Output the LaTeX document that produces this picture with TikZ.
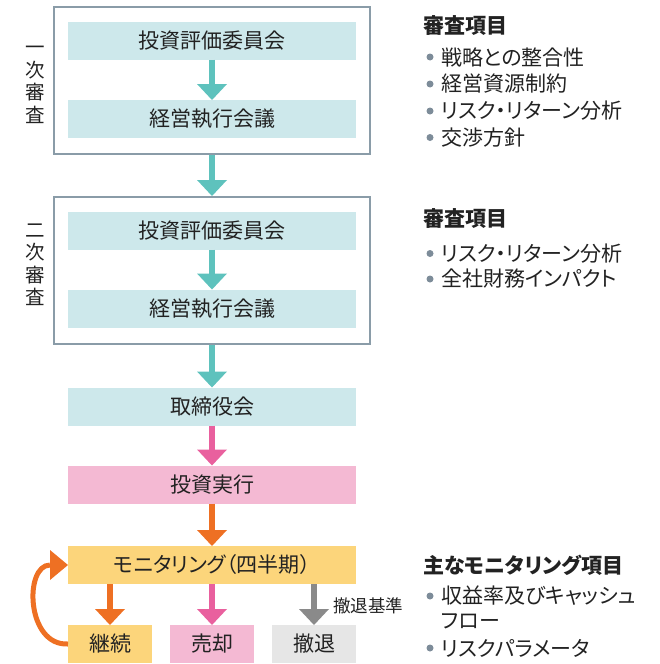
\documentclass[tikz,border=0pt]{standalone}
\usepackage{fontspec}
\setmainfont{Noto Sans CJK JP}[RawFeature=+palt]
\usetikzlibrary{arrows.meta}
\definecolor{framec}{HTML}{8A9CA8}
\definecolor{tealF}{HTML}{CDE8EB}
\definecolor{tealA}{HTML}{5EC2BD}
\definecolor{pinkF}{HTML}{F4B9D3}
\definecolor{pinkA}{HTML}{E9609E}
\definecolor{yellowF}{HTML}{FCD57B}
\definecolor{orangeA}{HTML}{EE7023}
\definecolor{grayF}{HTML}{E6E6E6}
\definecolor{grayA}{HTML}{8A8A8A}
\definecolor{bulc}{HTML}{7D8C99}
\definecolor{textc}{HTML}{222222}
\begin{document}
\begin{tikzpicture}[x=1pt,y=-1pt,
  every node/.style={text=textc},
  main/.style={font=\fontsize{21}{24}\selectfont},
  outerbox/.style={draw=framec,line width=2pt,fill=white,minimum width=316pt,minimum height=147pt,inner sep=0pt},
  box/.style={main,minimum height=38pt,inner sep=0pt,outer sep=0pt},
  tbox/.style={box,fill=tealF,minimum width=288pt},
  pbox/.style={box,fill=pinkF,minimum width=288pt},
  ybox/.style={box,fill=yellowF,minimum width=288pt},
  sbox/.style={box,minimum width=84pt},
  arr/.style={line width=5.5pt,-{Triangle[width=30pt,length=16pt,line width=0pt]}},
  tarr/.style={arr,draw=tealA},
  parr/.style={arr,draw=pinkA},
  oarr/.style={arr,draw=orangeA},
  garr/.style={arr,draw=grayA},
  vlabel/.style={align=center,font=\fontsize{19.5}{22.5}\selectfont,inner sep=0pt},
  title/.style={anchor=west,inner sep=0pt,font=\fontsize{21}{24}\selectfont\bfseries},
  item/.style={anchor=west,inner sep=0pt,main},
  bul/.style={fill=bulc},
  note/.style={anchor=west,inner sep=0pt,font=\fontsize{17.5}{20}\selectfont}
]
\path[use as bounding box] (0,0) rectangle (659,664);

% first review
\node[outerbox] (o1) at (212,80.5) {};
\node[tbox] (a1) at (212,40.5) {投資評価委員会};
\node[tbox] (b1) at (212,119) {経営執行会議};
\node[vlabel] (l1) at (35,85) {一\\次\\審\\査};

% second review
\node[outerbox] (o2) at (212,270.5) {};
\node[tbox] (a2) at (212,230.5) {投資評価委員会};
\node[tbox] (b2) at (212,308.5) {経営執行会議};
\node[vlabel] (l2) at (35,265) {二\\次\\審\\査};

\node[tbox] (tori) at (212,406.5) {取締役会};
\node[pbox] (jikko) at (212,484.5) {投資実行};
\node[ybox] (mon) at (212,565) {モニタリング（四半期）};

\node[sbox,fill=yellowF] (keizoku) at (110,644) {継続};
\node[sbox,fill=pinkF] (baikyaku) at (212,644) {売却};
\node[sbox,fill=grayF] (tettai) at (314,644) {撤退};

% connectors
\draw[tarr] (a1) -- (b1);
\draw[tarr] (o1) -- (o2);
\draw[tarr] (a2) -- (b2);
\draw[tarr] (o2) -- (tori);
\draw[parr] (tori) -- (jikko);
\draw[oarr] (jikko) -- (mon);
\draw[oarr] (mon.south -| keizoku) -- (keizoku.north);
\draw[parr] (mon) -- (baikyaku);
\draw[garr] (mon.south -| tettai) -- (tettai.north);
\node[note] (kijun) at (333,606) {撤退基準};
\draw[line width=5pt,draw=orangeA,-{Triangle[width=30pt,length=18pt,line width=0pt]}]
  (keizoku.west) .. controls (26,646) and (24,565) .. (mon.west);

% right column
\node[title] (t1) at (423,26) {審査項目};
\fill[bul] (430,57) circle (3.5);
\node[item] (i11) at (441,57) {戦略との整合性};
\fill[bul] (430,84) circle (3.5);
\node[item] (i12) at (441,84) {経営資源制約};
\fill[bul] (430,111) circle (3.5);
\node[item] (i13) at (441,111) {リスク・リターン分析};
\fill[bul] (430,137.5) circle (3.5);
\node[item] (i14) at (441,137.5) {交渉方針};

\node[title] (t2) at (423,219) {審査項目};
\fill[bul] (430,253.5) circle (3.5);
\node[item] (i21) at (441,253.5) {リスク・リターン分析};
\fill[bul] (430,279) circle (3.5);
\node[item] (i22) at (441,279) {全社財務インパクト};

\node[title] (t3) at (423,565) {主なモニタリング項目};
\fill[bul] (430,596) circle (3.5);
\node[item] (i31) at (441,596) {収益率及びキャッシュ};
\node[item] (i32) at (441,621) {フロー};
\fill[bul] (430,648) circle (3.5);
\node[item] (i33) at (441,648) {リスクパラメータ};
\end{tikzpicture}
\end{document}
